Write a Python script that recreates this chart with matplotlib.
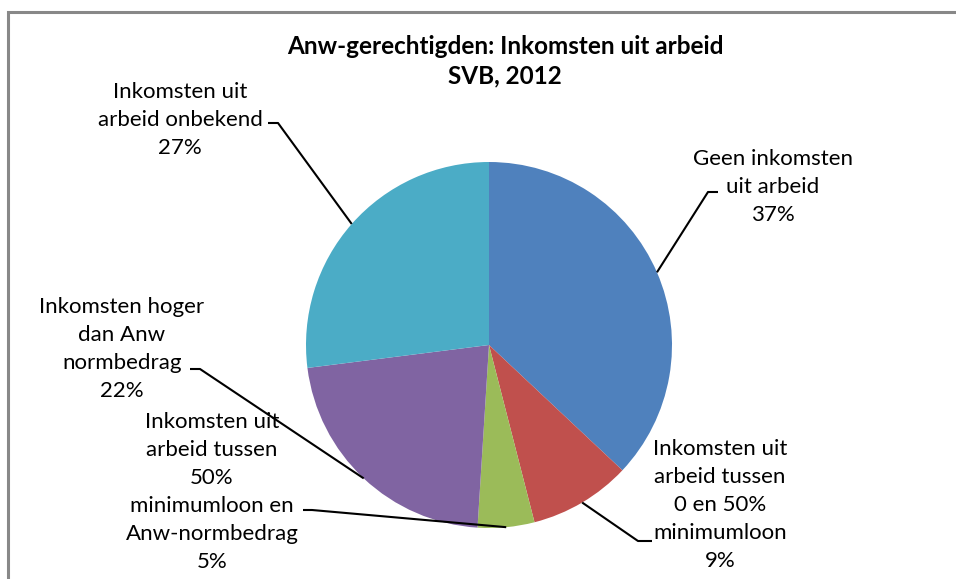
import numpy as np
import matplotlib.pyplot as plt

# data
categories = ['Geen inkomsten\nuit arbeid',
              'Inkomsten uit\narbeid tussen\n0 en 50%\nminimumloon',
              'Inkomsten uit\narbeid tussen\n50%\nminimumloon en\nAnw-normbedrag',
              'Inkomsten hoger\ndan Anw\nnormbedrag',
              'Inkomsten uit\narbeid onbekend']
values = [37, 9, 5, 22, 27]
colors = ['#4F81BD', '#C0504D', '#9BBB59', '#8064A2', '#4BACC6']

W, H = 956, 579
plt.rcParams['font.family'] = ['Lato', 'DejaVu Sans']

fig = plt.figure(figsize=(W / 100, H / 100), dpi=100)
ax = fig.add_axes([0, 0, 1, 1])

def py(y):
    # pixel row (from top) -> data y
    return H - y

cx, cy, r = 489, py(345), 183
wedges, _ = ax.pie(values, colors=colors, startangle=90, counterclock=False,
                   center=(cx, cy), radius=r, frame=True)
ax.set_xlim(0, W)
ax.set_ylim(0, H)
ax.set_aspect('equal')
ax.axis('off')

# label layout: text centre, elbow (outer, inner) in pixels
layout = [
    ((773, 187), (718, 192), (708, 192)),
    ((720, 505), (652, 541), (638, 541)),
    ((212, 492), (303, 510), (312, 510)),
    ((122, 349), (190, 369), (200, 369)),
    ((180, 120), (268, 123), (278, 123)),
]

for w, cat, v, (tc, e1, e2) in zip(wedges, categories, values, layout):
    ax.text(tc[0], py(tc[1]), f'{cat}\n{v}%', ha='center', va='center',
            fontsize=16, linespacing=1.5, color='black')
    mid = np.deg2rad((w.theta1 + w.theta2) / 2)
    px, pyy = cx + r * np.cos(mid), cy + r * np.sin(mid)
    ax.plot([e1[0], e2[0], px], [py(e1[1]), py(e2[1]), pyy], color='black', lw=1.5,
            solid_capstyle='butt')

ax.text(505, py(61), 'Anw-gerechtigden: Inkomsten uit arbeid\nSVB, 2012',
        ha='center', va='center', fontsize=17.5, fontweight='bold', linespacing=1.35)

# chart border (only left and top visible)
ax.plot([8.5, 8.5, W + 5], [-5, py(12), py(12)], color='#888888', lw=2.2,
        solid_joinstyle='miter')

fig.savefig('out.png', dpi=100)
